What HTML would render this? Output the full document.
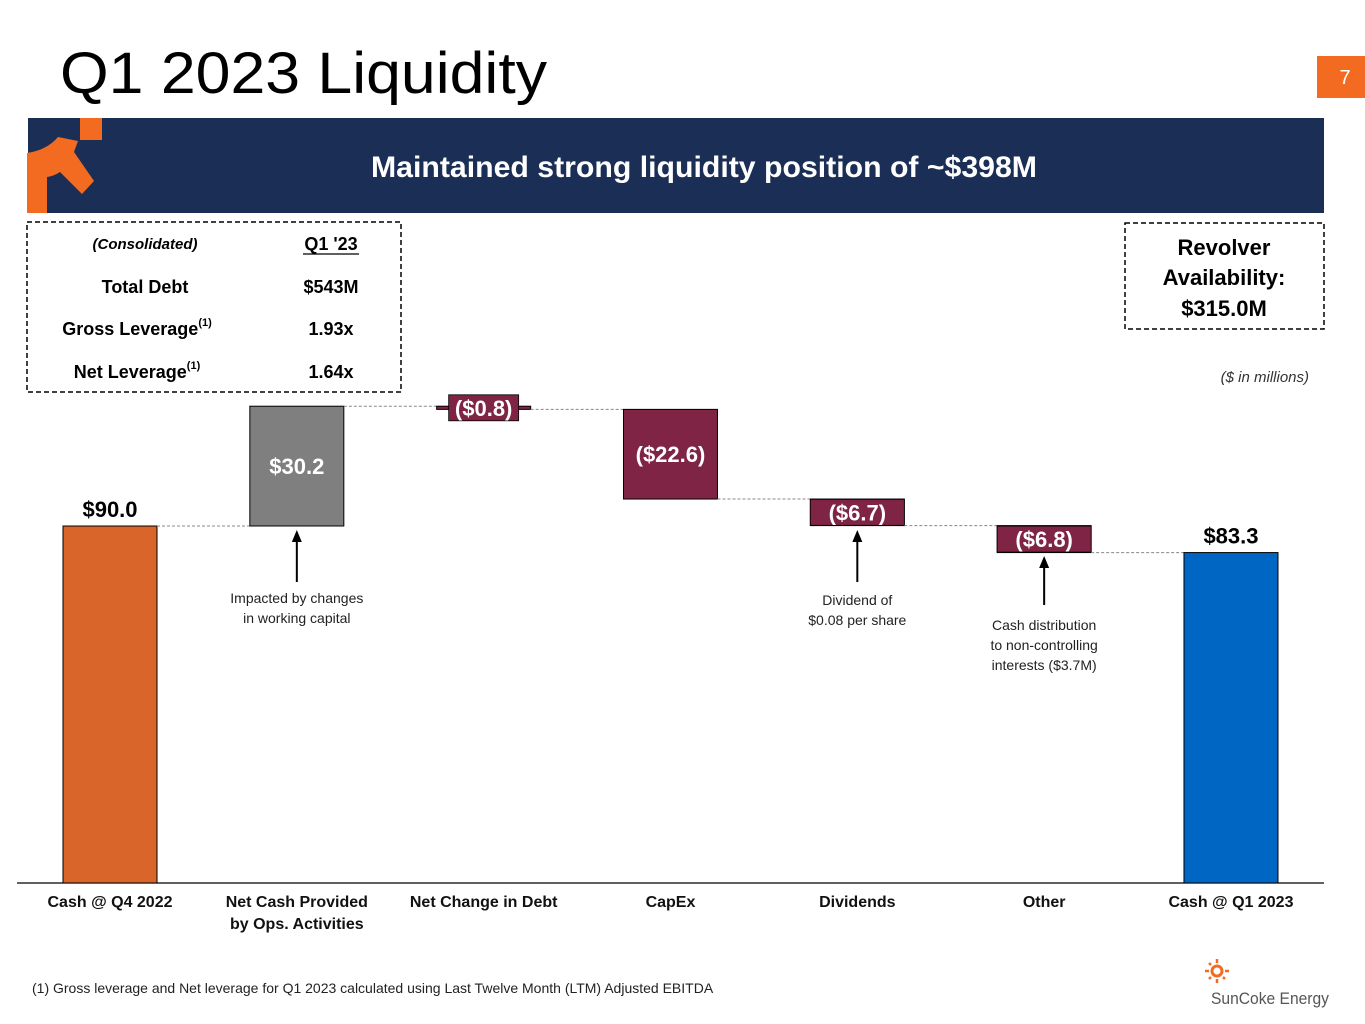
<!DOCTYPE html>
<html><head><meta charset="utf-8"><style>
html,body{margin:0;padding:0;background:#fff;}
svg{display:block;font-family:"Liberation Sans",sans-serif;}
</style></head><body>
<svg id="page" width="1365" height="1024" viewBox="0 0 1365 1024">
<text x="60" y="93" font-size="58" fill="#000" textLength="487" lengthAdjust="spacingAndGlyphs">Q1 2023 Liquidity</text>
<rect x="1317" y="56" width="48" height="42" fill="#F26B21"/>
<text x="1345" y="84" font-size="20" fill="#fff" text-anchor="middle">7</text>
<rect x="28" y="118" width="1296" height="95" fill="#1B2E56"/>
<g>
<path d="M27 153 Q47 150 58 137 L78 141 L74 152 L94 181 L82 194 L60 172 Q54 176 47 177 L47 213 L27 213 Z" fill="#F26B21"/>
<rect x="80" y="118" width="22" height="22" fill="#F26B21"/>
</g>
<text x="704" y="177" font-size="30" font-weight="bold" fill="#fff" text-anchor="middle" textLength="666" lengthAdjust="spacingAndGlyphs">Maintained strong liquidity position of ~$398M</text>

<g>
<rect x="27" y="222" width="374" height="170" fill="none" stroke="#000" stroke-width="1.5" stroke-dasharray="5,3"/>
<text x="145" y="249" font-size="15" font-weight="bold" font-style="italic" text-anchor="middle">(Consolidated)</text>
<text x="331" y="250" font-size="18" font-weight="bold" text-anchor="middle">Q1 '23</text>
<line x1="303" y1="254" x2="359" y2="254" stroke="#000" stroke-width="1.2"/>
<text x="145" y="293" font-size="18" font-weight="bold" text-anchor="middle">Total Debt</text>
<text x="331" y="293" font-size="18" font-weight="bold" text-anchor="middle">$543M</text>
<text x="137" y="335" font-size="18" font-weight="bold" text-anchor="middle">Gross Leverage<tspan font-size="11" dy="-9">(1)</tspan></text>
<text x="331" y="335" font-size="18" font-weight="bold" text-anchor="middle">1.93x</text>
<text x="137" y="378" font-size="18" font-weight="bold" text-anchor="middle">Net Leverage<tspan font-size="11" dy="-9">(1)</tspan></text>
<text x="331" y="378" font-size="18" font-weight="bold" text-anchor="middle">1.64x</text>
</g>
<g>
<rect x="1125" y="223" width="199" height="106" fill="none" stroke="#000" stroke-width="1.5" stroke-dasharray="5,3"/>
<text x="1224" y="255" font-size="22" font-weight="bold" text-anchor="middle">Revolver</text>
<text x="1224" y="285" font-size="22" font-weight="bold" text-anchor="middle">Availability:</text>
<text x="1224" y="316" font-size="22" font-weight="bold" text-anchor="middle">$315.0M</text>
</g>
<text x="1309" y="382" font-size="15" font-style="italic" fill="#333" text-anchor="end">($ in millions)</text>
<g id="chart"></g>
<text x="32" y="993" font-size="14" fill="#222">(1)  Gross leverage and Net leverage for Q1 2023 calculated using Last Twelve Month (LTM) Adjusted EBITDA</text>
<g>
<circle cx="1217" cy="971" r="5" fill="none" stroke="#F26B21" stroke-width="3"/>
<g stroke="#F26B21" stroke-width="2.5"><line x1="1217" y1="959" x2="1217" y2="963"/><line x1="1217" y1="979" x2="1217" y2="983"/><line x1="1205" y1="971" x2="1209" y2="971"/><line x1="1225" y1="971" x2="1229" y2="971"/><line x1="1209" y1="963" x2="1211" y2="965"/><line x1="1223" y1="977" x2="1225" y2="979"/><line x1="1209" y1="979" x2="1211" y2="977"/></g>
<text x="1211" y="1004" font-size="17" fill="#555" textLength="118" lengthAdjust="spacingAndGlyphs">SunCoke Energy</text>
</g>
</svg>
<script>
const categories = ["Cash @ Q4 2022", "Net Cash Provided|by Ops. Activities", "Net Change in Debt", "CapEx", "Dividends", "Other", "Cash @ Q1 2023"];
const values = [90.0, 30.2, -0.8, -22.6, -6.7, -6.8, 83.3];
const types = ["total", "delta", "delta", "delta", "delta", "delta", "total"];
const labels = ["$90.0", "$30.2", "($0.8)", "($22.6)", "($6.7)", "($6.8)", "$83.3"];
const NS = "http://www.w3.org/2000/svg";
const chart = document.getElementById("chart");
const baseY = 883, pxPer = 357 / 90, x0 = 110, step = 186.83, bw = 94;
function yS(v) { return baseY - v * pxPer; }
function xS(i) { return x0 + i * step; }
function mk(tag, attrs) { const e = document.createElementNS(NS, tag); for (const k in attrs) e.setAttribute(k, attrs[k]); chart.appendChild(e); return e; }
let run = 0;
const ax = mk("line", {x1: 17, x2: 1324, y1: baseY, y2: baseY, stroke: "#000", "stroke-width": 1.3});


values.forEach((v, i) => {
  let a, b, fill;
  const prev = run;
  if (types[i] === "total") { a = 0; b = v; run = v; fill = i === 0 ? "#D9652B" : "#0066C4"; }
  else { a = run; b = run + v; run = b; fill = v >= 0 ? "#7F7F7F" : "#7F2444"; }
  const top = yS(Math.max(a, b)), bot = yS(Math.min(a, b));
  const cx = xS(i);
  if (i > 0) {
    const conn = mk("line", {x1: xS(i - 1) + bw / 2, x2: cx - bw / 2, y1: yS(prev), y2: yS(prev), stroke: "#888", "stroke-width": 1, "stroke-dasharray": "3,2"});
    
    
  }
  const r = mk("rect", {x: cx - bw / 2, y: top, width: bw, height: Math.max(bot - top, 1.5), fill: fill, stroke: "#000", "stroke-width": 1});
  
  
  const h = bot - top;
  let lbl;
  if (types[i] === "total") {
    lbl = mk("text", {x: cx, y: top - 9, "font-size": 22, "font-weight": "bold", "text-anchor": "middle", fill: "#000"});
  } else if (h >= 40) {
    lbl = mk("text", {x: cx, y: (top + bot) / 2 + 8, "font-size": 22, "font-weight": "bold", "text-anchor": "middle", fill: "#fff"});
  } else {
    const bg = mk("rect", {x: cx - 47, y: (top + bot) / 2 - 13, width: 94, height: 26, fill: "#7F2444", stroke: "#000", "stroke-width": 0.8});
    
    
    if (h < 10) { bg.setAttribute("width", 70); bg.setAttribute("x", cx - 35); }
    lbl = mk("text", {x: cx, y: (top + bot) / 2 + 8, "font-size": 22, "font-weight": "bold", "text-anchor": "middle", fill: "#fff"});
  }
  lbl.textContent = labels[i];
  
  
  categories[i].split("|").forEach((ln, j) => {
    const t = mk("text", {x: cx, y: 907 + j * 22, "font-size": 16, "font-weight": "bold", "text-anchor": "middle", fill: "#111"});
    t.textContent = ln;
    
    
  });
});
const notes = [[1, ["Impacted by changes", "in working capital"], 582, 603], [4, ["Dividend of", "$0.08 per share"], 582, 605], [5, ["Cash distribution", "to non-controlling", "interests ($3.7M)"], 605, 630]];
notes.forEach(n => {
  const cx = xS(n[0]);
  const arrTop = n[0] === 5 ? 556 : 530;
  const l = mk("line", {x1: cx, x2: cx, y1: n[2], y2: arrTop + 10, stroke: "#000", "stroke-width": 2});
  
  
  const p = mk("path", {d: `M${cx - 5} ${arrTop + 12} L${cx} ${arrTop} L${cx + 5} ${arrTop + 12} Z`, fill: "#000"});
  
  
  n[1].forEach((ln, j) => {
    const t = mk("text", {x: cx, y: n[3] + j * 20, "font-size": 14, "text-anchor": "middle", fill: "#222"});
    t.textContent = ln;
    
    
  });
});
</script>
</body></html>
